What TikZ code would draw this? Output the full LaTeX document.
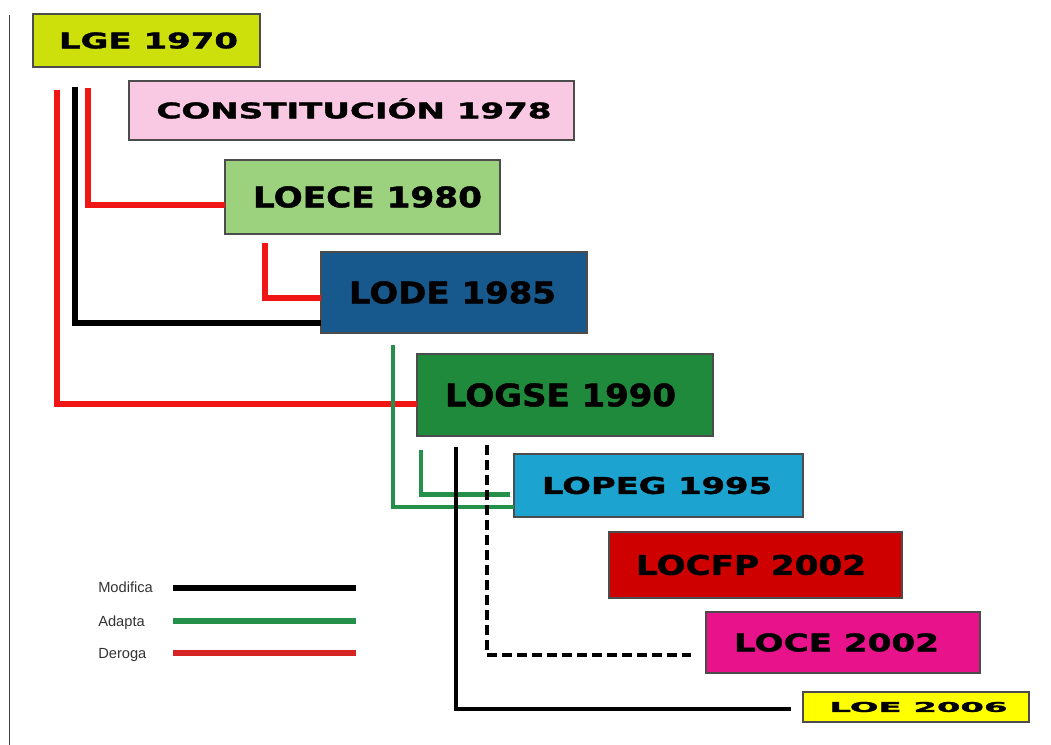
\documentclass[tikz,border=0pt]{standalone}
\usepackage{graphicx}
\usepackage{fontspec}
\setmainfont{Liberation Sans}
\newfontfamily\lawfont[BoldFeatures={FakeBold=1.5}]{DejaVu Sans}

% one drawing unit
\newlength\px
\setlength\px{0.75pt}
% law title: #1 horizontal offset, #2 width, #3 cap height, #4 text
\newcommand\lawtitle[4]{\hspace*{#1\px}\resizebox{#2\px}{#3\px}{\lawfont\bfseries #4}\hspace*{-#1\px}}

\definecolor{lgecol}{HTML}{CDE00C}
\definecolor{constcol}{HTML}{F9C8E2}
\definecolor{loececol}{HTML}{9CD17E}
\definecolor{lodecol}{HTML}{17598C}
\definecolor{logsecol}{HTML}{1F8A3B}
\definecolor{lopegcol}{HTML}{1CA3CF}
\definecolor{locfpcol}{HTML}{CE0000}
\definecolor{locecol}{HTML}{E8138B}
\definecolor{loecol}{HTML}{FFFF00}
\definecolor{derogacol}{HTML}{F01616}
\definecolor{adaptacol}{HTML}{25904A}
\definecolor{legredcol}{HTML}{D62424}

\begin{document}
\begin{tikzpicture}[x=0.75pt,y=-0.75pt,
  law/.style={draw=black!70, line width=0.9pt, inner sep=0pt, outer sep=0pt,
    text=black, anchor=north west},
  size/.style 2 args={minimum width=#1*\px, minimum height=#2*\px},
  deroga/.style={draw=derogacol, line width=4pt},
  modifica/.style={draw=black, line width=4pt},
  adapta/.style={draw=adaptacol, line width=3.2pt},
  modthin/.style={draw=black, line width=3pt},
  moddash/.style={draw=black, line width=3.4pt, dash pattern=on 7.5pt off 3.75pt},
  legtext/.style={anchor=base west, inner sep=0pt, text=black!80, font=\fontsize{11}{13}\selectfont},
  legline/.style={line width=4pt}]

\useasboundingbox (0,0) rectangle (1051,745);

% page rule on the left
\draw[black!75, line width=0.9pt] (9.5,15) -- (9.5,745);

% laws
\node[law, fill=lgecol,   size={227}{53}] (lge)   at (33,14)   {\lawtitle{2}{179}{16}{LGE 1970}};
\node[law, fill=constcol, size={445}{59}] (const) at (129,81)  {\lawtitle{2.5}{395}{16}{CONSTITUCI\smash{Ó}N 1978}};
\node[law, fill=loececol, size={275}{74}] (loece) at (225,160) {\lawtitle{5}{229}{21}{LOECE 1980}};
\node[law, fill=lodecol,  size={266}{81}] (lode)  at (321,252) {\lawtitle{-1.5}{207}{22}{LODE 1985}};
\node[law, fill=logsecol, size={296}{82}] (logse) at (417,354) {\lawtitle{-4.5}{231}{23}{LOGSE 1990}};
\node[law, fill=lopegcol, size={289}{63}] (lopeg) at (514,454) {\lawtitle{-1.5}{230}{17}{LOPEG 1995}};
\node[law, fill=locfpcol, size={293}{66}] (locfp) at (609,532) {\lawtitle{-4.5}{230}{20}{LOCFP 2002}};
\node[law, fill=locecol,  size={274}{61}] (loce)  at (706,612) {\lawtitle{-6.5}{205}{18}{LOCE 2002}};
\node[law, fill=loecol,   size={226}{30}] (loe)   at (803,692) {\lawtitle{2.5}{178}{10}{LOE 2006}};

% starting points of the relations
\coordinate (d1) at ([shift={(24,23)}]lge.south west);
\coordinate (m1) at ([shift={(42,20)}]lge.south west);
\coordinate (d2) at ([shift={(55,21)}]lge.south west);
\coordinate (d3) at ([shift={(40,9)}]loece.south west);
\coordinate (a1) at ([shift={(72,12)}]lode.south west);
\coordinate (a2) at ([shift={(4,14)}]logse.south west);
\coordinate (m2) at ([shift={(39,11)}]logse.south west);
\coordinate (m3) at ([shift={(70,9)}]logse.south west);

% deroga
\draw[deroga] (d1) |- ([shift={(0,9)}]logse.west);
\draw[deroga] (d2) |- ([shift={(0,8)}]loece.west);
\draw[deroga] (d3) |- ([shift={(0,5.5)}]lode.west);
% adapta
\draw[adapta] (a1) |- ([shift={(0,21.5)}]lopeg.west);
\draw[adapta] (a2) |- ([shift={(-4,9)}]lopeg.west);
% modifica
\draw[modifica] (m1) |- ([shift={(0,30.5)}]lode.west);
\draw[modthin] (m2) |- ([shift={(-12,1.5)}]loe.west);
\draw[moddash] (m3) |- ([shift={(-15,12.5)}]loce.west);

% legend
\node[legtext] (lmod) at (98,593) {Modifica};
\node[legtext] (lada) at (98,626) {Adapta};
\node[legtext] (lder) at (98,658) {Deroga};
\coordinate (lmodA) at (173,588); \coordinate (lmodB) at (356,588);
\coordinate (ladaA) at (173,621); \coordinate (ladaB) at (356,621);
\coordinate (lderA) at (173,653); \coordinate (lderB) at (356,653);
\draw[legline, black] (lmodA) -- (lmodB);
\draw[legline, adaptacol] (ladaA) -- (ladaB);
\draw[legline, legredcol] (lderA) -- (lderB);
\end{tikzpicture}
\end{document}
